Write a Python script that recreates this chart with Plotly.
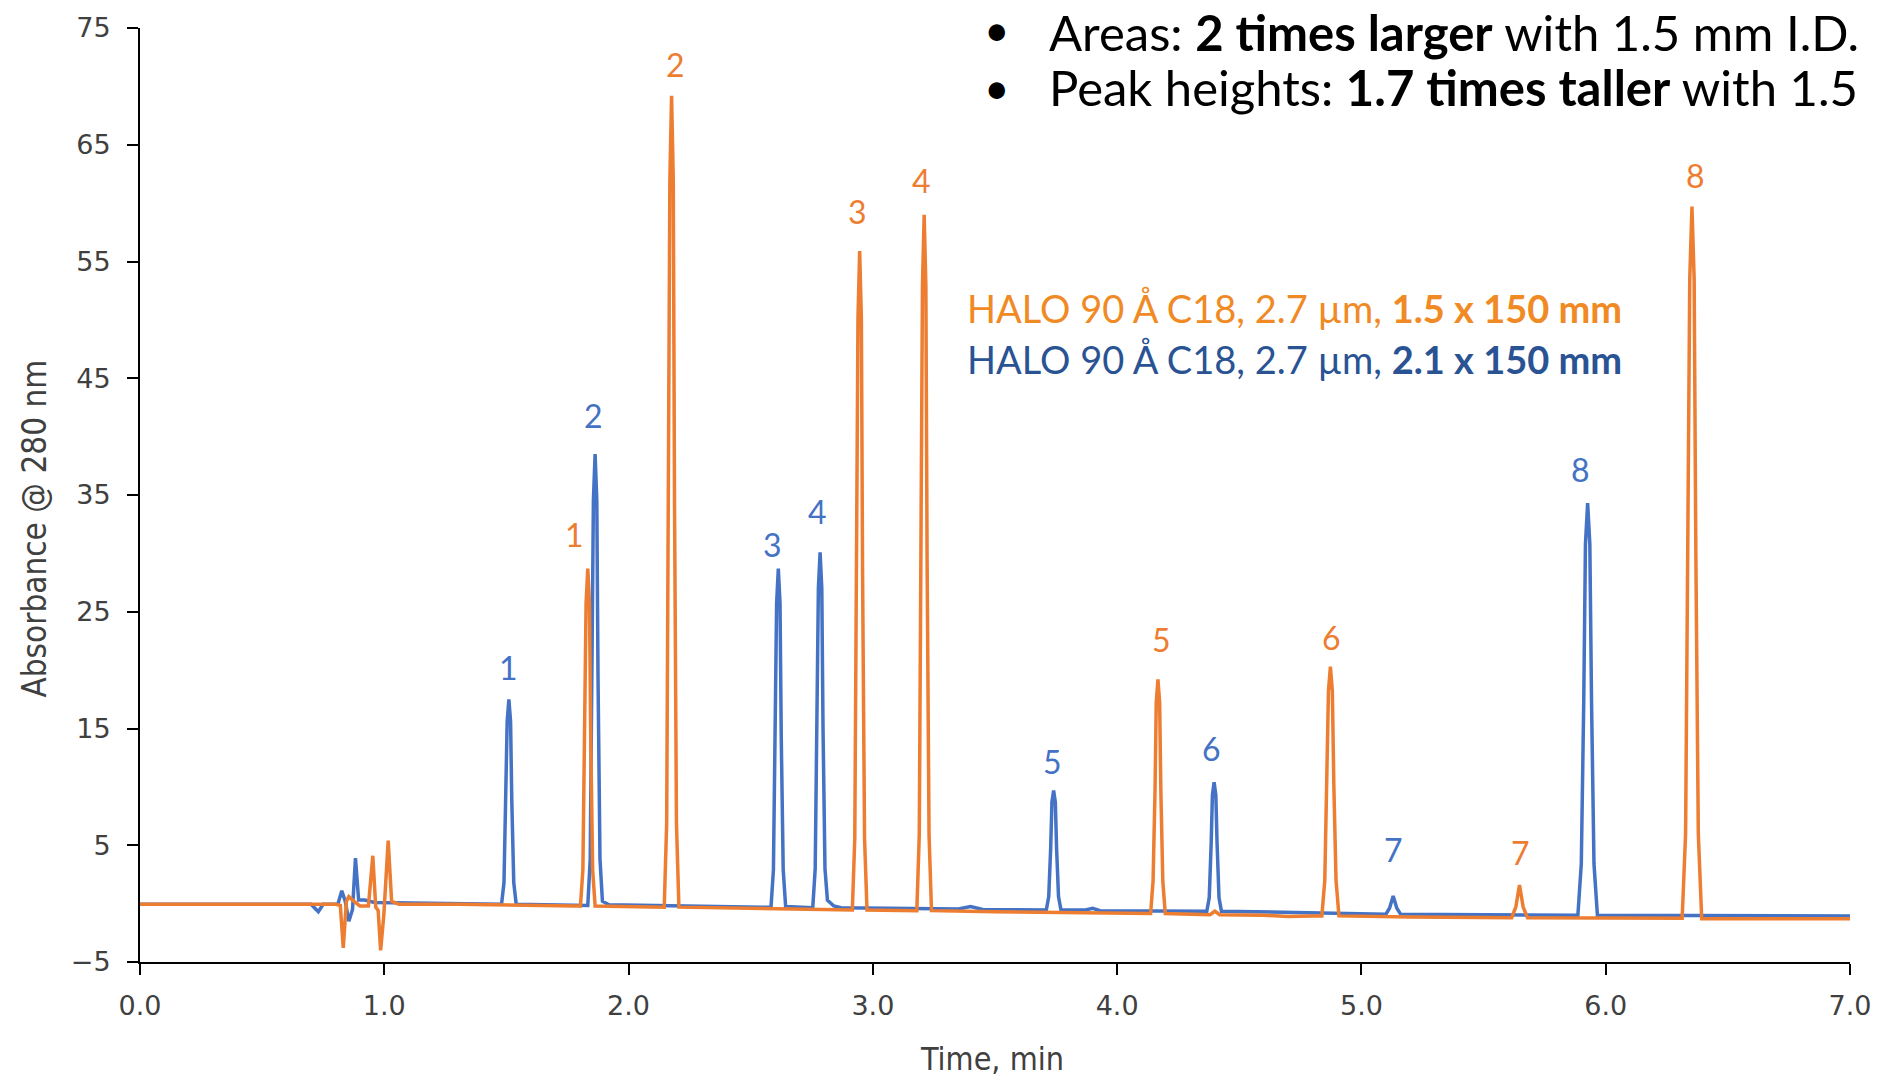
import plotly.graph_objects as go

# ---------------- data ----------------
blue_time = [0.00, 0.70, 0.73, 0.75, 0.81, 0.826, 0.84, 0.855, 0.87, 0.882, 0.895, 0.92, 0.96, 1.20, 1.45,
             1.48, 1.49, 1.498, 1.503, 1.51, 1.517, 1.522, 1.53, 1.54,
             1.80,
             1.833, 1.843, 1.851, 1.856, 1.863, 1.870, 1.875, 1.883, 1.893, 1.92,
             2.55,
             2.583, 2.593, 2.601, 2.606, 2.613, 2.620, 2.625, 2.633, 2.643,
             2.754, 2.764, 2.772, 2.777, 2.784, 2.791, 2.796, 2.804, 2.814, 2.84, 2.87,
             3.35, 3.40, 3.45,
             3.71, 3.72, 3.728, 3.733, 3.74, 3.747, 3.752, 3.76, 3.77,
             3.87, 3.90, 3.93,
             4.367, 4.377, 4.385, 4.390, 4.397, 4.404, 4.409, 4.417, 4.427,
             5.10, 5.115, 5.13, 5.145, 5.16,
             5.886, 5.900, 5.910, 5.917, 5.926, 5.935, 5.942, 5.952, 5.966,
             7.00]
blue_abs = [-0.05, -0.05, -0.7, -0.05, -0.05, 1.1, 0.2, -1.5, -0.5, 3.9, 0.3, 0.3, 0.1, 0.0, -0.05,
            -0.05, 1.8, 8.8, 15.6, 17.5, 15.6, 8.8, 1.8, -0.05,
            -0.15,
            -0.15, 3.8, 19.2, 34.5, 38.5, 34.5, 19.2, 3.8, 0.2, -0.1,
            -0.3,
            -0.3, 2.9, 14.3, 25.7, 28.7, 25.7, 14.3, 2.9, -0.25,
            -0.35, 3.0, 15.0, 27.0, 30.1, 27.0, 15.0, 3.0, 0.3, -0.2, -0.35,
            -0.45, -0.25, -0.5,
            -0.55, 0.6, 4.8, 8.7, 9.7, 8.7, 4.8, 0.6, -0.55,
            -0.55, -0.4, -0.6,
            -0.65, 0.5, 5.2, 9.3, 10.4, 9.3, 5.2, 0.5, -0.65,
            -0.9, -0.4, 0.65, -0.4, -0.9,
            -1.0, 3.4, 17.2, 30.8, 34.3, 30.8, 17.2, 3.4, -1.0,
            -1.05]

orange_time = [0.00, 0.80, 0.82, 0.832, 0.845, 0.855, 0.87, 0.90, 0.935, 0.953, 0.965, 0.975, 0.985, 0.998,
               1.016, 1.03, 1.06, 1.30, 1.78,
               1.803, 1.813, 1.821, 1.826, 1.833, 1.840, 1.845, 1.853, 1.863,
               2.12,
               2.146, 2.156, 2.164, 2.169, 2.176, 2.183, 2.188, 2.196, 2.206,
               2.916, 2.926, 2.934, 2.939, 2.946, 2.953, 2.958, 2.966, 2.976,
               3.18, 3.19, 3.198, 3.203, 3.21, 3.217, 3.222, 3.23, 3.24,
               3.50,
               4.137, 4.147, 4.155, 4.160, 4.167, 4.174, 4.179, 4.187, 4.197,
               4.38, 4.40, 4.42, 4.60, 4.70, 4.80,
               4.838, 4.85, 4.859, 4.865, 4.873, 4.881, 4.887, 4.896, 4.908,
               5.20,
               5.615, 5.632, 5.647, 5.662, 5.68,
               6.313, 6.327, 6.337, 6.344, 6.353, 6.362, 6.369, 6.379, 6.393,
               7.00]
orange_abs = [-0.05, -0.05, -0.15, -3.8, 0.2, 0.6, 0.3, -0.2, -0.2, 4.1, -0.3, -0.6, -4.0, -1.0,
              5.4, 0.2, -0.05, -0.05, -0.2,
              -0.2, 2.9, 14.3, 25.7, 28.7, 25.7, 14.3, 2.9, -0.2,
              -0.3,
              -0.3, 6.9, 34.6, 62.0, 69.2, 62.0, 34.6, 6.9, -0.3,
              -0.55, 5.6, 28.0, 50.1, 55.9, 50.1, 28.0, 5.6, -0.55,
              -0.6, 5.9, 29.5, 52.9, 59.0, 52.9, 29.5, 5.9, -0.6,
              -0.7,
              -0.85, 1.9, 9.6, 17.2, 19.2, 17.2, 9.6, 1.9, -0.85,
              -0.95, -0.65, -0.95, -1.0, -1.1, -1.05,
              -1.05, 2.0, 10.2, 18.2, 20.3, 18.2, 10.2, 2.0, -1.05,
              -1.15,
              -1.2, -0.3, 1.6, -0.3, -1.2,
              -1.25, 6.0, 29.9, 53.5, 59.7, 53.5, 29.9, 6.0, -1.3,
              -1.3]

peak_numbers = ["1", "2", "3", "4", "5", "6", "7", "8"]
blue_label_time = [1.510, 1.858, 2.588, 2.775, 3.735, 4.387, 5.132, 5.897]
blue_label_abs = [20.2, 41.8, 30.8, 33.6, 12.2, 13.3, 4.6, 37.2]
orange_label_time = [1.779, 2.191, 2.936, 3.201, 4.181, 4.877, 5.652, 6.368]
orange_label_abs = [31.6, 71.9, 59.3, 61.9, 22.6, 22.8, 4.4, 62.4]

x_ticks = [0, 1, 2, 3, 4, 5, 6, 7]
y_ticks = [-5, 5, 15, 25, 35, 45, 55, 65, 75]

legend_orange = "HALO 90 Å C18, 2.7 µm, <b>1.5 x 150 mm</b>"
legend_blue = "HALO 90 Å C18, 2.7 µm, <b>2.1 x 150 mm</b>"
bullet_lines = ["Areas: <b>2 times larger</b> with 1.5 mm I.D.",
                "Peak heights: <b>1.7 times taller</b> with 1.5"]

# ---------------- style ----------------
BLUE = "#4472C4"
ORANGE = "#ED7D31"
HUM = "Lato, Open Sans, sans-serif"
COND = "DejaVu Sans Condensed, DejaVu Sans, sans-serif"

fig = go.Figure()
fig.add_trace(go.Scatter(x=blue_time, y=blue_abs, mode="lines",
                         line=dict(color=BLUE, width=3.5), showlegend=False))
fig.add_trace(go.Scatter(x=orange_time, y=orange_abs, mode="lines",
                         line=dict(color=ORANGE, width=3.5), showlegend=False))

ann = []
for n, t, a in zip(peak_numbers, blue_label_time, blue_label_abs):
    ann.append(dict(x=t, y=a, xref="x", yref="y", text=n, showarrow=False,
                    font=dict(family=HUM, size=32, color=BLUE)))
for n, t, a in zip(peak_numbers, orange_label_time, orange_label_abs):
    ann.append(dict(x=t, y=a, xref="x", yref="y", text=n, showarrow=False,
                    font=dict(family=HUM, size=32, color=ORANGE)))

# legend-like texts
ann.append(dict(x=0.4826, y=0.7001, xref="paper", yref="paper", text=legend_orange,
                xanchor="left", yanchor="middle", showarrow=False,
                font=dict(family=HUM, size=38, color="#F08A24")))
ann.append(dict(x=0.4826, y=0.6456, xref="paper", yref="paper", text=legend_blue,
                xanchor="left", yanchor="middle", showarrow=False,
                font=dict(family=HUM, size=38, color="#2A5394")))

# bullets at top (first line anchored to the page top so it is not clipped)
bullet_y = [1.0282, 0.9363]
bullet_anchor = ["top", "middle"]
for yy, anc, txt in zip(bullet_y, bullet_anchor, bullet_lines):
    ann.append(dict(x=0.501, y=yy, xref="paper", yref="paper", text="•",
                    xanchor="center", yanchor=anc, showarrow=False, borderpad=0,
                    font=dict(family=HUM, size=44, color="#000000")))
    ann.append(dict(x=0.5311, y=yy, xref="paper", yref="paper", text=txt,
                    xanchor="left", yanchor=anc, showarrow=False, borderpad=0,
                    font=dict(family=HUM, size=49, color="#000000")))

# axis titles
ann.append(dict(x=0.4984, y=-0.1037, xref="paper", yref="paper", text="Time, min",
                xanchor="center", yanchor="middle", showarrow=False,
                font=dict(family=COND, size=32, color="#404040")))
ann.append(dict(x=-0.0615, y=0.4639, xref="paper", yref="paper", text="Absorbance @ 280 nm",
                xanchor="center", yanchor="middle", showarrow=False, textangle=-90,
                font=dict(family=COND, size=33, color="#404040")))

fig.update_layout(
    width=1883, height=1081,
    margin=dict(l=140, r=28, t=26, b=119),
    paper_bgcolor="white", plot_bgcolor="white",
    annotations=ann,
    xaxis=dict(range=[0, 7], tickvals=x_ticks, ticktext=[f"{v:.1f}" for v in x_ticks],
               showgrid=False, zeroline=False, showline=True, linecolor="#000000", linewidth=2,
               ticks="outside", ticklen=11, tickwidth=2, tickcolor="#000000",
               ticklabelstandoff=8,
               tickfont=dict(family="DejaVu Sans", size=27, color="#404040")),
    yaxis=dict(range=[-5, 75], tickvals=y_ticks,
               showgrid=False, zeroline=False, showline=True, linecolor="#000000", linewidth=2,
               ticks="outside", ticklen=11, tickwidth=2, tickcolor="#000000",
               ticklabelstandoff=11,
               tickfont=dict(family="DejaVu Sans", size=27, color="#404040")),
)

fig.write_html("out.html")
